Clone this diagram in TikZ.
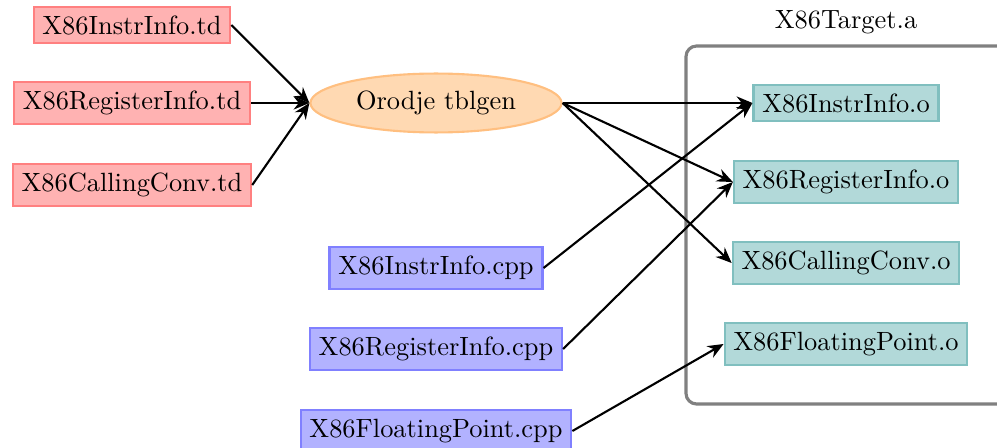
\documentclass[tikz,border=0pt]{standalone}
\usetikzlibrary{shapes.geometric,arrows.meta}
\begin{document}
\begin{tikzpicture}[x=0.3788pt,y=-0.3788pt,
  tdbox/.style={draw=red!50,fill=red!30,thick},
  cppbox/.style={draw=blue!50,fill=blue!30,thick},
  objbox/.style={draw=teal!50,fill=teal!30,thick},
  tool/.style={ellipse,draw=orange!50,fill=orange!30,thick,minimum width=95pt,minimum height=21pt},
  group/.style={draw=gray,line width=1.2pt,rounded corners=4pt},
  conn/.style={thick,-{Stealth[length=6pt,width=5pt,inset=2pt]}}]
\useasboundingbox (0,0) rectangle (997,447);
\clip (0,0) rectangle (997,447);
\draw[group] (686,46) rectangle (1020,404);
\node (lib) at (846,22) {X86Target.a};
\node[tdbox] (itd) at (132,25) {X86InstrInfo.td};
\node[tdbox] (rtd) at (132,103) {X86RegisterInfo.td};
\node[tdbox] (ctd) at (132,185) {X86CallingConv.td};
\node[tool] (tbl) at (436,103) {Orodje tblgen};
\node[cppbox] (icpp) at (436,268) {X86InstrInfo.cpp};
\node[cppbox] (rcpp) at (436,349) {X86RegisterInfo.cpp};
\node[cppbox] (fcpp) at (436,431) {X86FloatingPoint.cpp};
\node[objbox] (io) at (846,103) {X86InstrInfo.o};
\node[objbox] (ro) at (846,182) {X86RegisterInfo.o};
\node[objbox] (co) at (846,263) {X86CallingConv.o};
\node[objbox] (fo) at (846,344) {X86FloatingPoint.o};
\draw[conn] (itd.east) -- (tbl.west);
\draw[conn] (rtd.east) -- (tbl.west);
\draw[conn] (ctd.east) -- (tbl.west);
\draw[conn] (tbl.east) -- (io.west);
\draw[conn] (tbl.east) -- (ro.west);
\draw[conn] (tbl.east) -- (co.west);
\draw[conn] (icpp.east) -- (io.west);
\draw[conn] (rcpp.east) -- (ro.west);
\draw[conn] (fcpp.east) -- (fo.west);
\end{tikzpicture}
\end{document}
